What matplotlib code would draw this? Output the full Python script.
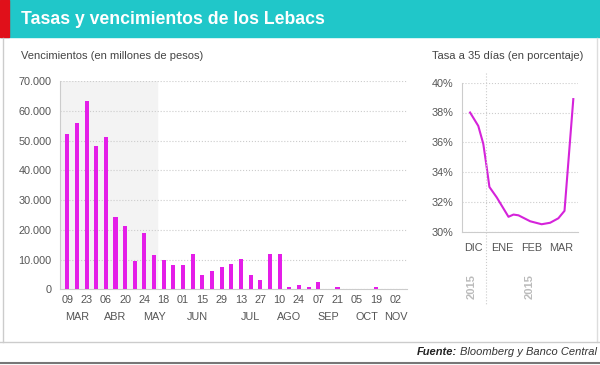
import matplotlib.pyplot as plt
from matplotlib.lines import Line2D
from matplotlib.patches import Rectangle
from matplotlib.ticker import FuncFormatter

plt.rcParams['font.family'] = ['Liberation Sans', 'DejaVu Sans']

# vencimientos por quincena (millones de pesos)
vencimientos = [52100, 55800, 63300, 48000, 51300, 24400, 21200, 9600, 18800, 11400,
                9900, 8200, 8200, 12000, 4800, 6000, 7400, 8400, 10100, 4800,
                3200, 12000, 11800, 900, 1500, 900, 2600, 0, 800, 0,
                0, 0, 800, 0, 0]
dias = ['09', '23', '06', '20', '24', '18', '01', '15', '29', '13', '27', '10',
        '24', '07', '21', '05', '19', '02']
meses = ['MAR', 'ABR', 'MAY', 'JUN', 'JUL', 'AGO', 'SEP', 'OCT', 'NOV']
meses_pos = [1, 5, 9, 13.5, 19, 23, 27, 31, 34]

# tasa a 35 dias (x en meses: DIC=0 ... MAR=3)
tasa_x = [-0.10, 0.18, 0.35, 0.44, 0.56, 0.81, 1.21, 1.38, 1.55, 1.95, 2.34, 2.63, 2.91, 3.12, 3.42]
tasa_y = [38.0, 37.1, 35.9, 34.7, 33.0, 32.3, 31.0, 31.15, 31.1, 30.7, 30.5, 30.6, 30.9, 31.4, 38.9]
tasa_meses = ['DIC', 'ENE', 'FEB', 'MAR']

magenta = '#e41ee8'
gris = '#555555'

fig = plt.figure(figsize=(6, 3.65), dpi=100)

# barra de titulo
fig.add_artist(Rectangle((0, 1 - 37/365), 1, 37/365, color='#20c7c9', transform=fig.transFigure))
fig.add_artist(Rectangle((0, 1 - 37/365), 9/600, 37/365, color='#e0101a', transform=fig.transFigure))
fig.text(21/600, 1 - 19/365, 'Tasas y vencimientos de los Lebacs', color='white',
         fontsize=12.7, fontweight='bold', va='center')

# marco
fig.add_artist(Line2D([3/600, 3/600], [1 - 38/365, 1 - 342/365], color='#cccccc', lw=1))
fig.add_artist(Line2D([597/600, 597/600], [1 - 38/365, 1 - 342/365], color='#dddddd', lw=1))
fig.add_artist(Line2D([0, 1], [1 - 341.5/365, 1 - 341.5/365], color='#cccccc', lw=1))
fig.add_artist(Line2D([0, 1], [1 - 363/365, 1 - 363/365], color='#777777', lw=1.5))

fig.text(21/600, 1 - 56/365, 'Vencimientos (en millones de pesos)', color='#444444',
         fontsize=8, va='center')
fig.text(432/600, 1 - 56/365, 'Tasa a 35 días (en porcentaje)', color='#444444',
         fontsize=8, va='center')

# fuente
t = fig.text(597/600, 1 - 352/365, 'Bloomberg y Banco Central', color='#333333',
             fontsize=8, style='italic', ha='right', va='center')
r = fig.canvas.get_renderer()
x0 = t.get_window_extent(r).x0 / fig.bbox.width
fig.text(x0 - 3/600, 1 - 352/365, 'Fuente:', color='#222222', fontsize=8,
         style='italic', fontweight='bold', ha='right', va='center')

# grafico de barras
ax = fig.add_axes([60/600, 1 - 289.3/365, 347/600, 208.3/365])
x = list(range(len(vencimientos)))
ax.axvspan(-0.75, 9.3, color='#f3f3f3', zorder=0)
ax.bar(x, vencimientos, width=0.42, color=magenta, zorder=3)
ax.set_xlim(-0.75, 35.2)
ax.set_ylim(0, 70000)
ax.set_yticks(range(0, 70001, 10000))
ax.yaxis.set_major_formatter(FuncFormatter(lambda v, p: f'{int(v):,}'.replace(',', '.')))
ax.grid(axis='y', color='#cccccc', ls=':', lw=0.8, zorder=1)
ax.xaxis.remove_overlapping_locs = False
ax.set_xticks(x[::2])
ax.set_xticklabels(dias)
ax.set_xticks(meses_pos, minor=True)
ax.set_xticklabels(meses, minor=True)
ax.tick_params(axis='x', which='major', length=0, pad=4, labelsize=7.8, labelcolor=gris)
ax.tick_params(axis='x', which='minor', length=0, pad=16, labelsize=7.8, labelcolor=gris)
ax.tick_params(axis='y', length=0, pad=6, labelsize=7.8, labelcolor=gris)
for s in ['top', 'right']:
    ax.spines[s].set_visible(False)
ax.spines['left'].set_color('#cccccc')
ax.spines['bottom'].set_color('#cccccc')
ax.patch.set_alpha(0)

# grafico de tasa
ax2 = fig.add_axes([462/600, 1 - 231.7/365, 116/600, 149/365])
ax2.plot(tasa_x, tasa_y, color='#d523da', lw=1.5, zorder=3)
ax2.set_xlim(-0.375, 3.58)
ax2.set_ylim(30, 40)
ax2.set_yticks(range(30, 41, 2))
ax2.set_yticklabels([f'{v}%' for v in range(30, 41, 2)])
ax2.set_xticks(range(4))
ax2.set_xticklabels(tasa_meses)
ax2.grid(axis='y', color='#cccccc', ls=':', lw=0.8)
ax2.tick_params(axis='x', length=0, pad=8, labelsize=7.8, labelcolor=gris)
ax2.tick_params(axis='y', length=0, pad=6, labelsize=7.8, labelcolor=gris)
for s in ['top', 'right']:
    ax2.spines[s].set_visible(False)
ax2.spines['left'].set_color('#cccccc')
ax2.spines['bottom'].set_color('#cccccc')

# separador de anios
fig.add_artist(Line2D([486/600, 486/600], [1 - 73/365, 1 - 305/365], color='#cccccc',
                      ls=':', lw=0.8))
fig.text(471.5/600, 1 - 287/365, '2015', rotation=90, color='#bbbbbb', fontsize=8,
         fontweight='bold', ha='center', va='center')
fig.text(530/600, 1 - 287/365, '2015', rotation=90, color='#bbbbbb', fontsize=8,
         fontweight='bold', ha='center', va='center')

fig.savefig('out.png', dpi=100)
